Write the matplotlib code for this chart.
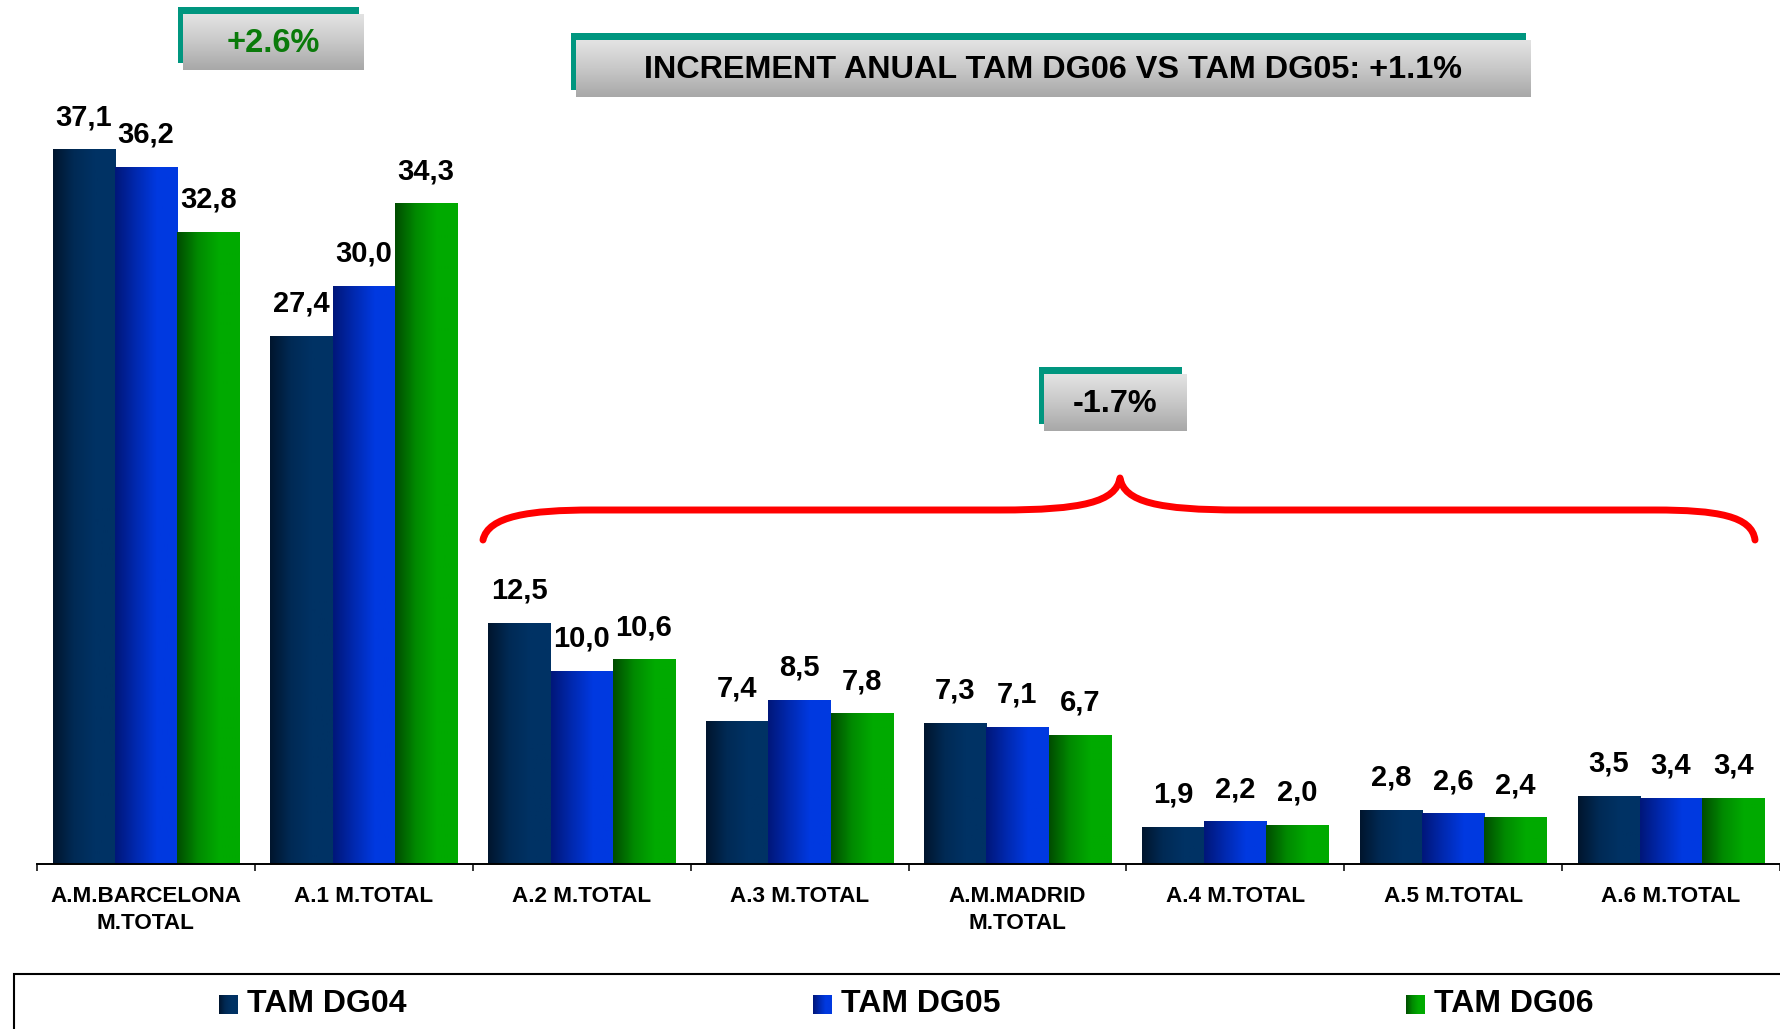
import matplotlib
matplotlib.use("Agg")
import matplotlib.pyplot as plt
import numpy as np
from matplotlib.colors import LinearSegmentedColormap
from matplotlib.patches import Rectangle, PathPatch
from matplotlib.path import Path

plt.rcParams["font.family"] = ["Liberation Sans", "DejaVu Sans"]
plt.rcParams["font.weight"] = "bold"

categories = ["A.M.BARCELONA\nM.TOTAL", "A.1 M.TOTAL", "A.2 M.TOTAL", "A.3 M.TOTAL",
              "A.M.MADRID\nM.TOTAL", "A.4 M.TOTAL", "A.5 M.TOTAL", "A.6 M.TOTAL"]
series_names = ["TAM DG04", "TAM DG05", "TAM DG06"]
tam_dg04 = [37.1, 27.4, 12.5, 7.4, 7.3, 1.9, 2.8, 3.5]
tam_dg05 = [36.2, 30.0, 10.0, 8.5, 7.1, 2.2, 2.6, 3.4]
tam_dg06 = [32.8, 34.3, 10.6, 7.8, 6.7, 2.0, 2.4, 3.4]
title_text = "INCREMENT ANUAL TAM DG06 VS TAM DG05: +1.1%"
left_change = "+2.6%"
right_change = "-1.7%"

# dark-to-light horizontal gradients for each series
cmaps = [
    LinearSegmentedColormap.from_list("dg04", ["#00152e", "#002a55", "#003264", "#003264"]),
    LinearSegmentedColormap.from_list("dg05", ["#00177a", "#0029b0", "#0039e0", "#0039e0"]),
    LinearSegmentedColormap.from_list("dg06", ["#004d00", "#008a00", "#00aa00", "#00aa00"]),
]
ramp = np.linspace(0, 1, 64).reshape(1, -1)
gray_ramp = np.linspace(0, 1, 64).reshape(-1, 1)
gray_cmap = LinearSegmentedColormap.from_list("box", ["#e3e3e3", "#c8c8c8", "#a8a8a8"])
teal = "#00967f"

W, H = 1780, 1029
fig = plt.figure(figsize=(W / 100, H / 100), dpi=100)
base_y = 864
px_per_unit = 19.25
ax = fig.add_axes([37 / W, (H - base_y) / H, (W - 37) / W, base_y / H])

x = np.arange(len(categories))
bw = 2 / 7
for i, (vals, cm) in enumerate(zip([tam_dg04, tam_dg05, tam_dg06], cmaps)):
    bars = ax.bar(x + (i - 1) * bw, vals, bw, facecolor="none", edgecolor="none")
    for b, v in zip(bars, vals):
        x0 = b.get_x()
        ax.imshow(ramp, cmap=cm, extent=[x0, x0 + b.get_width(), 0, b.get_height()],
                  aspect="auto", zorder=2, interpolation="bilinear")
        ax.annotate(f"{v:.1f}".replace(".", ","), (x0 + b.get_width() / 2, v),
                    xytext=(0, 23.5), textcoords="offset points", ha="center", va="center",
                    fontsize=21, fontweight="bold")

ax.set_xlim(-0.5, len(categories) - 0.5)
ax.set_ylim(0, base_y / px_per_unit)
for s in ["left", "right", "top"]:
    ax.spines[s].set_visible(False)
ax.spines["bottom"].set_linewidth(1.4)
ax.set_yticks([])
ax.set_xticks(np.arange(len(categories) + 1) - 0.5)
ax.set_xticklabels([])
ax.tick_params(axis="x", which="major", length=5, width=1.1, direction="out")
ax.set_xticks(x, minor=True)
ax.set_xticklabels(categories, minor=True, fontsize=16.2, fontweight="bold",
                   linespacing=1.35)
ax.tick_params(axis="x", which="minor", length=0, pad=16)

# overlay in pixel coordinates for callouts, brace and legend
ov = fig.add_axes([0, 0, 1, 1], zorder=5)
ov.set_xlim(0, W)
ov.set_ylim(H, 0)
ov.axis("off")
ov.patch.set_alpha(0)


def callout(x0, y0, x1, y1, text, color, size):
    ov.add_patch(Rectangle((x0 - 5, y0 - 7), x1 - x0, y1 - y0, facecolor=teal,
                           edgecolor="none", zorder=1))
    ov.imshow(gray_ramp, cmap=gray_cmap, extent=[x0, x1, y1, y0], aspect="auto",
              interpolation="bilinear", zorder=2)
    ov.text((x0 + x1) / 2, (y0 + y1) / 2 + 1, text, ha="center", va="center",
            fontsize=size, fontweight="bold", color=color, zorder=3)


callout(183, 14, 364, 70, left_change, "#0a7a0a", 23.5)
callout(576, 40, 1531, 97, title_text, "black", 23.3)
callout(1044, 374, 1187, 431, right_change, "black", 23.3)

# red brace over the smaller areas
verts = [(483, 540), (488, 516), (530, 510), (592, 510),
         (1000, 510),
         (1082, 510), (1116, 502), (1120, 478),
         (1124, 502), (1158, 510), (1240, 510),
         (1655, 510),
         (1717, 510), (1752, 516), (1755, 540)]
codes = [Path.MOVETO, Path.CURVE4, Path.CURVE4, Path.CURVE4,
         Path.LINETO,
         Path.CURVE4, Path.CURVE4, Path.CURVE4,
         Path.CURVE4, Path.CURVE4, Path.CURVE4,
         Path.LINETO,
         Path.CURVE4, Path.CURVE4, Path.CURVE4]
ov.add_patch(PathPatch(Path(verts, codes), facecolor="none", edgecolor="red",
                       linewidth=5, capstyle="round", joinstyle="round", zorder=3))

# legend frame
ov.add_patch(Rectangle((14, 974), 1800, 120, facecolor="white", edgecolor="black",
                       linewidth=1.5, zorder=1))
for name, cm, lx in zip(series_names, cmaps, [219, 813, 1406]):
    ov.imshow(ramp, cmap=cm, extent=[lx, lx + 19, 1014, 995], aspect="auto",
              interpolation="bilinear", zorder=2)
    ov.text(lx + 28, 1004, name, ha="left", va="center", fontsize=23, fontweight="bold",
            zorder=3)

ov.set_xlim(0, W)
ov.set_ylim(H, 0)

fig.savefig("out.png", dpi=100, facecolor="white")
